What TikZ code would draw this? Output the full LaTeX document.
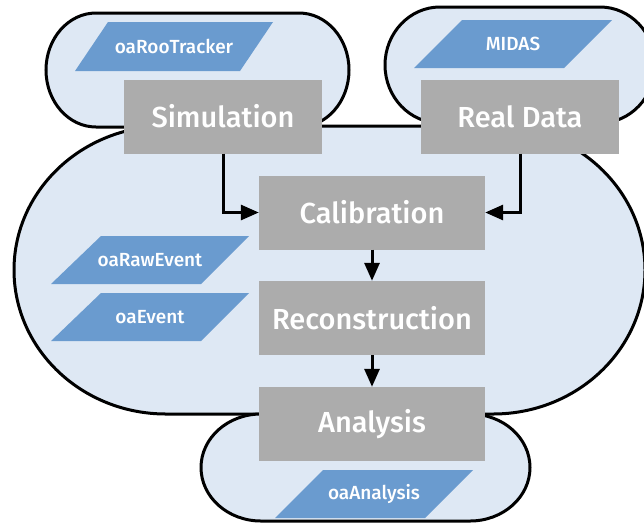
\documentclass[tikz,border=0pt]{standalone}
\usepackage{fontspec}
\setmainfont{Fira Sans Medium}
\usetikzlibrary{arrows.meta}
\definecolor{blobfill}{RGB}{222,232,244}
\definecolor{parablue}{RGB}{106,155,207}
\definecolor{boxgray}{RGB}{172,172,172}
\begin{document}
\begin{tikzpicture}[x=1pt,y=-1pt,
  blob/.style={fill=blobfill, draw=black, line width=3pt},
  para/.style={fill=parablue},
  ptext/.style={text=white, font=\fontsize{19}{22}\selectfont, inner sep=0pt},
  stage/.style={fill=boxgray, text=white, font=\fontsize{29}{36}\selectfont, minimum height=74pt, inner sep=0pt},
  arr/.style={line width=3pt, -{Triangle[length=18pt,width=15pt]}}]
\useasboundingbox (0,0) rectangle (644,523);
\clip (0,0) rectangle (644,523);
% big blob
\path[blob] (166,126) -- (493,126)
  arc[start angle=-90,end angle=0,x radius=152,y radius=144]
  arc[start angle=0,end angle=90,x radius=152,y radius=144]
  -- (166,414)
  arc[start angle=90,end angle=180,x radius=152,y radius=144]
  arc[start angle=180,end angle=270,x radius=152,y radius=144] -- cycle;
% top-left blob
\path[blob] (96,13) -- (299,13)
  arc[start angle=-90,end angle=0,x radius=50,y radius=57]
  arc[start angle=0,end angle=90,x radius=50,y radius=57]
  -- (96,127)
  arc[start angle=90,end angle=180,x radius=50,y radius=57]
  arc[start angle=180,end angle=270,x radius=50,y radius=57] -- cycle;
% top-right blob
\path[blob] (440,7) -- (600,7)
  arc[start angle=-90,end angle=0,x radius=55,y radius=58]
  arc[start angle=0,end angle=90,x radius=55,y radius=58]
  -- (440,123)
  arc[start angle=90,end angle=180,x radius=55,y radius=58]
  arc[start angle=180,end angle=270,x radius=55,y radius=58] -- cycle;
% bottom blob
\path[blob] (261,414) -- (470,414)
  arc[start angle=-90,end angle=0,x radius=60,y radius=53.5]
  arc[start angle=0,end angle=90,x radius=60,y radius=53.5]
  -- (261,521)
  arc[start angle=90,end angle=180,x radius=60,y radius=53.5]
  arc[start angle=180,end angle=270,x radius=60,y radius=53.5] -- cycle;
% data parallelograms
\fill[para] (108,22) -- (273,22) -- (240,71) -- (75,71) -- cycle;
\node[ptext] (roo) at (174,46.5) {oaRooTracker};
\fill[para] (462,20) -- (612,20) -- (564,68) -- (414,68) -- cycle;
\node[ptext] (midas) at (513,44) {MIDAS};
\fill[para] (101,236) -- (249,236) -- (201,284) -- (51,284) -- cycle;
\node[ptext] (raw) at (150,260) {oaRawEvent};
\fill[para] (101,293) -- (249,293) -- (201,341) -- (51,341) -- cycle;
\node[ptext] (evt) at (150,317) {oaEvent};
\fill[para] (323,470) -- (473,470) -- (425,518) -- (275,518) -- cycle;
\node[ptext] (oaana) at (374,494) {oaAnalysis};
% stages
\node[stage, minimum width=198pt] (sim) at (223,116.5) {Simulation};
\node[stage, minimum width=198pt] (real) at (520,116.5) {Real Data};
\node[stage, minimum width=226pt] (cal) at (372,212.5) {Calibration};
\node[stage, minimum width=226pt] (rec) at (372,318) {Reconstruction};
\node[stage, minimum width=226pt] (ana) at (372,424) {Analysis};
% connectors
\draw[arr] (sim.south) |- (cal.west);
\draw[arr] (real.south) |- (cal.east);
\draw[arr] (cal.south) -- (rec.north);
\draw[arr] (rec.south) -- (ana.north);
\end{tikzpicture}
\end{document}
